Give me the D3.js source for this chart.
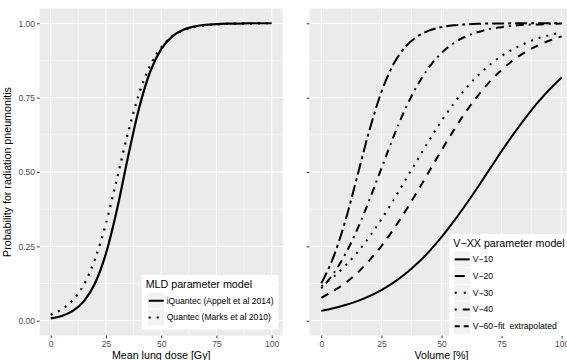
<!DOCTYPE html>
<html>
<head>
<meta charset="utf-8">
<script src="https://cdn.jsdelivr.net/npm/d3@7"></script>
<style>
  body { margin: 0; background: #fff; }
  svg { display: block; font-family: "Liberation Sans", Arial, sans-serif; }
</style>
</head>
<body>
<svg id="chart" width="567" height="360"></svg>
<script>
// NTCP curves (probability vs dose / volume)

const doseGy = [0, 5, 10, 15, 20, 25, 30, 35, 40, 45, 50, 55, 60, 65, 70, 75, 80, 85, 90, 95, 100];
const iQuantec = [0.008, 0.016, 0.033, 0.065, 0.125, 0.226, 0.374, 0.551, 0.715, 0.837, 0.913, 0.956, 0.978, 0.989, 0.995, 0.997, 0.999, 0.999, 1.0, 1.0, 1.0];
const quantec = [0.020, 0.038, 0.069, 0.121, 0.206, 0.327, 0.478, 0.632, 0.763, 0.858, 0.919, 0.955, 0.976, 0.987, 0.993, 0.996, 0.998, 0.999, 0.999, 1.0, 1.0];

const volumePct = [0, 5, 10, 15, 20, 25, 30, 35, 40, 45, 50, 55, 60, 65, 70, 75, 80, 85, 90, 95, 100];
const v10 = [0.033, 0.042, 0.053, 0.066, 0.083, 0.103, 0.128, 0.158, 0.193, 0.234, 0.281, 0.333, 0.389, 0.448, 0.509, 0.570, 0.628, 0.683, 0.733, 0.778, 0.818];
const v20 = [0.126, 0.213, 0.336, 0.487, 0.640, 0.769, 0.862, 0.921, 0.956, 0.976, 0.987, 0.993, 0.996, 0.998, 0.999, 0.999, 1.0, 1.0, 1.0, 1.0, 1.0];
const v30 = [0.116, 0.147, 0.185, 0.230, 0.282, 0.341, 0.405, 0.473, 0.541, 0.608, 0.672, 0.729, 0.780, 0.823, 0.860, 0.890, 0.914, 0.933, 0.949, 0.960, 0.970];
const v40 = [0.109, 0.158, 0.224, 0.308, 0.406, 0.512, 0.618, 0.713, 0.792, 0.854, 0.900, 0.933, 0.955, 0.970, 0.981, 0.987, 0.992, 0.995, 0.996, 0.998, 0.999];
const v60 = [0.077, 0.100, 0.127, 0.161, 0.203, 0.251, 0.307, 0.369, 0.435, 0.504, 0.573, 0.639, 0.701, 0.755, 0.803, 0.843, 0.877, 0.904, 0.925, 0.942, 0.956];

const xTicks = [0, 25, 50, 75, 100];
const yTicks = [0, 0.25, 0.5, 0.75, 1];
const mldLabels = ['iQuantec (Appelt et al 2014)', 'Quantec (Marks et al 2010)'];
const vxxLabels = ['V\u221210', 'V\u221220', 'V\u221230', 'V\u221240', 'V\u221260\u2212fit\u00a0 extrapolated'];

const svg = d3.select('#chart');
const panelTop = 8.4, panelBottom = 335.6;
const y = d3.scaleLinear().domain([-0.05, 1.05]).range([panelBottom, panelTop]);

function drawPanel(id, x0, x1, showYLabels) {
  const x = d3.scaleLinear().domain([-5, 105]).range([x0, x1]);
  const g = svg.append('g').attr('class', id);

  g.append('rect')
    .attr('x', x0).attr('y', panelTop)
    .attr('width', x1 - x0).attr('height', panelBottom - panelTop)
    .attr('fill', '#ebebeb');

  // minor grid first, then major
  const minorX = [12.5, 37.5, 62.5, 87.5];
  const minorY = [0.125, 0.375, 0.625, 0.875];
  g.selectAll('.vminor').data(minorX).enter().append('line')
    .attr('x1', d => x(d)).attr('x2', d => x(d))
    .attr('y1', panelTop).attr('y2', panelBottom)
    .attr('stroke', '#fff').attr('stroke-width', 0.5);
  g.selectAll('.hminor').data(minorY).enter().append('line')
    .attr('x1', x0).attr('x2', x1)
    .attr('y1', d => y(d)).attr('y2', d => y(d))
    .attr('stroke', '#fff').attr('stroke-width', 0.5);
  g.selectAll('.vmajor').data(xTicks).enter().append('line')
    .attr('x1', d => x(d)).attr('x2', d => x(d))
    .attr('y1', panelTop).attr('y2', panelBottom)
    .attr('stroke', '#fff').attr('stroke-width', 1);
  g.selectAll('.hmajor').data(yTicks).enter().append('line')
    .attr('x1', x0).attr('x2', x1)
    .attr('y1', d => y(d)).attr('y2', d => y(d))
    .attr('stroke', '#fff').attr('stroke-width', 1);

  // axes
  const xAxis = g.append('g')
    .attr('transform', `translate(0,${panelBottom})`)
    .call(d3.axisBottom(x).tickValues(xTicks).tickSize(2.7).tickPadding(3).tickFormat(d3.format('d')));
  const yAxis = g.append('g')
    .attr('transform', `translate(${x0},0)`)
    .call(d3.axisLeft(y).tickValues(yTicks).tickSize(2.7).tickPadding(1.8)
      .tickFormat(showYLabels ? d3.format('.2f') : () => ''));

  [xAxis, yAxis].forEach(a => {
    a.select('.domain').remove();
    a.selectAll('.tick line').attr('stroke', '#333333');
    a.selectAll('.tick text').attr('fill', '#4d4d4d').attr('font-size', 8.6);
  });

  return x;
}

function drawCurve(x, xs, ys, dash, width) {
  const line = d3.line()
    .x((d, i) => x(xs[i]))
    .y(d => y(d))
    .curve(d3.curveMonotoneX);
  svg.append('path')
    .datum(ys)
    .attr('d', line)
    .attr('fill', 'none')
    .attr('stroke', '#000')
    .attr('stroke-width', width || 2)
    .attr('stroke-dasharray', dash)
    .attr('stroke-linecap', 'butt');
}

function drawLegend(bx, by, bw, bh, title, labels, dashes, keyX, keyTop) {
  const g = svg.append('g');
  g.append('rect').attr('x', bx).attr('y', by).attr('width', bw).attr('height', bh).attr('fill', '#fff');
  g.append('text')
    .attr('x', bx + 4).attr('y', by + 13.3)
    .attr('font-size', 10.7).attr('fill', '#000')
    .text(title);

  const keyH = 16.7;
  labels.forEach((lab, i) => {
    const cy = keyTop + keyH * i + keyH / 2;
    g.append('rect')
      .attr('x', keyX).attr('y', keyTop + keyH * i)
      .attr('width', 16.5).attr('height', keyH)
      .attr('fill', '#f2f2f2').attr('stroke', '#fff').attr('stroke-width', 0.5);
    g.append('line')
      .attr('x1', keyX + 1).attr('x2', keyX + 16)
      .attr('y1', cy).attr('y2', cy)
      .attr('stroke', '#000').attr('stroke-width', 2)
      .attr('stroke-dasharray', dashes[i]);
    g.append('text')
      .attr('x', keyX + 19).attr('y', cy).attr('dy', '0.35em')
      .attr('font-size', 8.6).attr('fill', '#000')
      .text(lab);
  });
}

// left panel: mean lung dose
const xLeft = drawPanel('left', 39.65, 282.75, true);
drawCurve(xLeft, doseGy, iQuantec, null, 2.2);
drawCurve(xLeft, doseGy, quantec, '2,6', 2.2);

// right panel: volume
const xRight = drawPanel('right', 309.3, 573.7, false);
drawCurve(xRight, volumePct, v10, null);
drawCurve(xRight, volumePct, v20, '12,4,3,4');
drawCurve(xRight, volumePct, v30, '2,6');
drawCurve(xRight, volumePct, v40, '2,5,8,5');
drawCurve(xRight, volumePct, v60, '8,7');

// axis titles
svg.append('text')
  .attr('x', (39.65 + 282.75) / 2).attr('y', 359.4)
  .attr('text-anchor', 'middle').attr('font-size', 10.7)
  .text('Mean lung dose [Gy]');
svg.append('text')
  .attr('x', (309.3 + 573.7) / 2).attr('y', 359.4)
  .attr('text-anchor', 'middle').attr('font-size', 10.7)
  .text('Volume [%]');
svg.append('text')
  .attr('transform', `translate(10.8,${(panelTop + panelBottom) / 2}) rotate(-90)`)
  .attr('text-anchor', 'middle').attr('font-size', 10.7)
  .text('Probability for radiation pneumonitis');

// legends
drawLegend(141.7, 275, 136.6, 54.5, 'MLD parameter model', mldLabels,
  [null, '2,6'], 147.7, 292.4);
drawLegend(449.3, 234, 130, 102, 'V\u2212XX parameter model', vxxLabels,
  [null, '10,20', '2,7', '2,6,8,6', '5,4'], 453.7, 251);
</script>
</body>
</html>
